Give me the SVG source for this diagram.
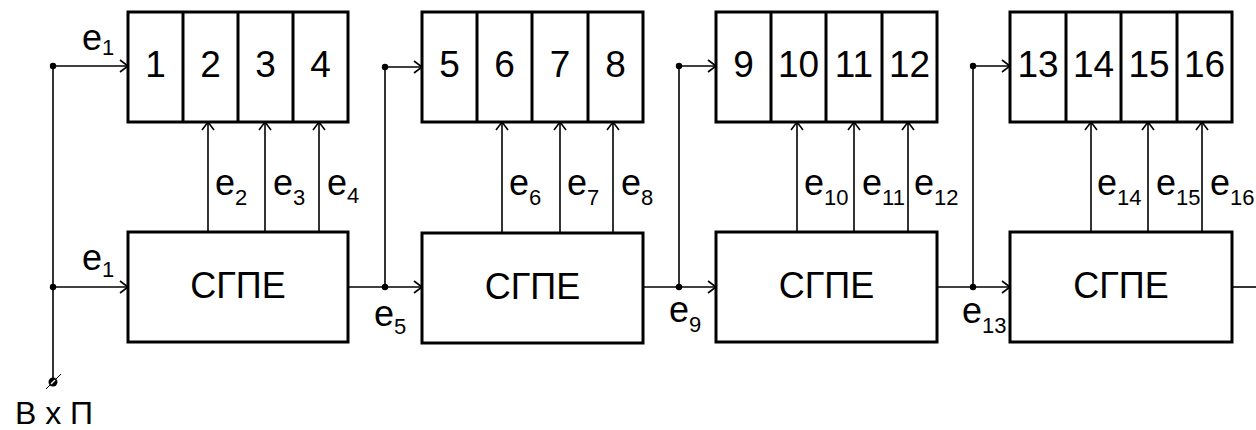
<svg xmlns="http://www.w3.org/2000/svg" width="1256" height="430" viewBox="0 0 1256 430">
<style>
.box{fill:#fff;stroke:#000;stroke-width:3}
.cell{stroke:#000;stroke-width:3}
.ln{stroke:#000;stroke-width:1.6;fill:none}
.arr{stroke:#000;stroke-width:1.6;fill:none;marker-end:url(#ah)}
.num{font-family:"Liberation Sans",Arial,sans-serif;font-size:37px;text-anchor:middle;fill:#000}
.lbl{font-family:"Liberation Sans",Arial,sans-serif;font-size:36px;fill:#000}
.sub{font-size:22px}
.big{font-family:"Liberation Sans",Arial,sans-serif;font-size:36px;text-anchor:middle;fill:#000}
</style>
<defs>
<marker id="ah" markerUnits="userSpaceOnUse" markerWidth="12" markerHeight="14" refX="9" refY="7" orient="auto">
<path d="M1,1 L9,7 L1,13" fill="none" stroke="#000" stroke-width="1.6"/>
</marker>
</defs>
<g id="connectors">
<line class="ln" x1="53" y1="66" x2="53" y2="378"/>
<line class="arr" x1="53" y1="66" x2="128" y2="66"/>
<line class="arr" x1="53" y1="287" x2="128" y2="287"/>
<line class="arr" x1="348" y1="287" x2="422" y2="287"/>
<line class="ln" x1="385" y1="287" x2="385" y2="67"/>
<line class="arr" x1="385" y1="67" x2="422" y2="67"/>
<line class="arr" x1="643" y1="287" x2="716" y2="287"/>
<line class="ln" x1="679" y1="287" x2="679" y2="66"/>
<line class="arr" x1="679" y1="66" x2="716" y2="66"/>
<line class="arr" x1="937" y1="287" x2="1010" y2="287"/>
<line class="ln" x1="973" y1="287" x2="973" y2="66"/>
<line class="arr" x1="973" y1="66" x2="1010" y2="66"/>
<line class="ln" x1="1232" y1="287" x2="1256" y2="287"/>
<line class="arr" x1="208" y1="232" x2="208" y2="122"/>
<line class="arr" x1="265" y1="232" x2="265" y2="122"/>
<line class="arr" x1="319" y1="232" x2="319" y2="122"/>
<line class="arr" x1="502" y1="232" x2="502" y2="122"/>
<line class="arr" x1="560" y1="232" x2="560" y2="122"/>
<line class="arr" x1="613" y1="232" x2="613" y2="122"/>
<line class="arr" x1="797" y1="232" x2="797" y2="122"/>
<line class="arr" x1="854" y1="232" x2="854" y2="122"/>
<line class="arr" x1="908" y1="232" x2="908" y2="122"/>
<line class="arr" x1="1091" y1="232" x2="1091" y2="122"/>
<line class="arr" x1="1148" y1="232" x2="1148" y2="122"/>
<line class="arr" x1="1202" y1="232" x2="1202" y2="122"/>
<circle cx="53" cy="66" r="3.2" fill="#000"/>
<circle cx="53" cy="287" r="3.2" fill="#000"/>
<circle cx="385" cy="287" r="3.2" fill="#000"/>
<circle cx="385" cy="67" r="3.2" fill="#000"/>
<circle cx="679" cy="287" r="3.2" fill="#000"/>
<circle cx="679" cy="66" r="3.2" fill="#000"/>
<circle cx="973" cy="287" r="3.2" fill="#000"/>
<circle cx="973" cy="66" r="3.2" fill="#000"/>
<circle cx="53" cy="382" r="4.5" fill="#000"/>
<line x1="46" y1="389" x2="61" y2="374" stroke="#000" stroke-width="1"/>
<line x1="51" y1="384" x2="55" y2="380" stroke="#fff" stroke-width="1.2"/>
</g>
<g id="labels">
<text class="lbl" x="82" y="50">e<tspan class="sub" dy="5">1</tspan></text>
<text class="lbl" x="82" y="270">e<tspan class="sub" dy="7">1</tspan></text>
<text class="lbl" x="215" y="195">e<tspan class="sub" dy="10">2</tspan></text>
<text class="lbl" x="273" y="195">e<tspan class="sub" dy="10">3</tspan></text>
<text class="lbl" x="327" y="195">e<tspan class="sub" dy="8">4</tspan></text>
<text class="lbl" x="374" y="326">e<tspan class="sub" dy="8">5</tspan></text>
<text class="lbl" x="509" y="195">e<tspan class="sub" dy="10">6</tspan></text>
<text class="lbl" x="567" y="195">e<tspan class="sub" dy="10">7</tspan></text>
<text class="lbl" x="621" y="195">e<tspan class="sub" dy="10">8</tspan></text>
<text class="lbl" x="669" y="322">e<tspan class="sub" dy="10">9</tspan></text>
<text class="lbl" x="804" y="195">e<tspan class="sub" dy="10">10</tspan></text>
<text class="lbl" x="862" y="195">e<tspan class="sub" dy="10">11</tspan></text>
<text class="lbl" x="914" y="195">e<tspan class="sub" dy="10">12</tspan></text>
<text class="lbl" x="962" y="323">e<tspan class="sub" dy="10">13</tspan></text>
<text class="lbl" x="1097" y="195">e<tspan class="sub" dy="10">14</tspan></text>
<text class="lbl" x="1156" y="195">e<tspan class="sub" dy="10">15</tspan></text>
<text class="lbl" x="1210" y="195">e<tspan class="sub" dy="10">16</tspan></text>
<text class="big" x="54" y="424" style="font-size:32px">В х П</text>
</g>
<g id="reg1">
<rect class="box" x="128" y="12" width="220" height="110"/>
<line class="cell" x1="183" y1="12" x2="183" y2="122"/>
<line class="cell" x1="238" y1="12" x2="238" y2="122"/>
<line class="cell" x1="293" y1="12" x2="293" y2="122"/>
<text class="num" x="155.5" y="77">1</text><text class="num" x="210.5" y="77">2</text><text class="num" x="265.5" y="77">3</text><text class="num" x="320.5" y="77">4</text>
</g>
<g id="reg2">
<rect class="box" x="422" y="12" width="221" height="110"/>
<line class="cell" x1="477" y1="12" x2="477" y2="122"/>
<line class="cell" x1="532" y1="12" x2="532" y2="122"/>
<line class="cell" x1="588" y1="12" x2="588" y2="122"/>
<text class="num" x="449.5" y="77">5</text><text class="num" x="504.5" y="77">6</text><text class="num" x="560" y="77">7</text><text class="num" x="615.5" y="77">8</text>
</g>
<g id="reg3">
<rect class="box" x="716" y="12" width="221" height="110"/>
<line class="cell" x1="771" y1="12" x2="771" y2="122"/>
<line class="cell" x1="826" y1="12" x2="826" y2="122"/>
<line class="cell" x1="882" y1="12" x2="882" y2="122"/>
<text class="num" x="743.5" y="77">9</text><text class="num" x="798.5" y="77">10</text><text class="num" x="854" y="77">11</text><text class="num" x="909.5" y="77">12</text>
</g>
<g id="reg4">
<rect class="box" x="1010" y="12" width="222" height="110"/>
<line class="cell" x1="1066" y1="12" x2="1066" y2="122"/>
<line class="cell" x1="1121" y1="12" x2="1121" y2="122"/>
<line class="cell" x1="1177" y1="12" x2="1177" y2="122"/>
<text class="num" x="1038" y="77">13</text><text class="num" x="1093.5" y="77">14</text><text class="num" x="1149" y="77">15</text><text class="num" x="1204.5" y="77">16</text>
</g>
<g id="sgpe1"><rect class="box" x="128" y="232" width="220" height="110"/><text class="big" x="238" y="298">СГПЕ</text></g>
<g id="sgpe2"><rect class="box" x="422" y="233" width="221" height="110"/><text class="big" x="532.5" y="299">СГПЕ</text></g>
<g id="sgpe3"><rect class="box" x="716" y="232" width="221" height="110"/><text class="big" x="826.5" y="298">СГПЕ</text></g>
<g id="sgpe4"><rect class="box" x="1010" y="232" width="222" height="110"/><text class="big" x="1121" y="298">СГПЕ</text></g>
</svg>
